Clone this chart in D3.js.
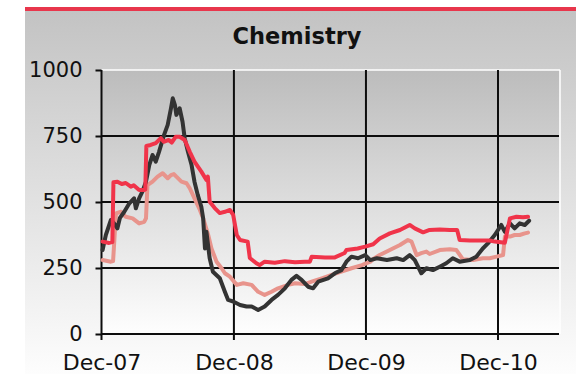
<!DOCTYPE html>
<html>
<head>
<meta charset="utf-8">
<script src="https://cdn.jsdelivr.net/npm/d3@7"></script>
<style>
  html, body { margin: 0; padding: 0; background: #ffffff; }
  svg { display: block; }
  text { font-family: "DejaVu Sans", Verdana, sans-serif; fill: #111; }
</style>
</head>
<body>
<svg id="chart" width="576" height="374"></svg>
<script>
// Chemistry index series (date, level)
const seriesNames = ["Sector", "Benchmark A", "Benchmark B"];

const sectorDates = ["2007-12-04","2007-12-13","2007-12-27","2008-01-04","2008-01-14","2008-01-21","2008-02-02","2008-02-16","2008-02-29","2008-03-05","2008-03-14","2008-03-23","2008-04-02","2008-04-11","2008-04-20","2008-04-29","2008-05-08","2008-05-22","2008-06-01","2008-06-10","2008-06-15","2008-06-21","2008-06-25","2008-07-04","2008-07-12","2008-07-18","2008-07-27","2008-08-06","2008-08-14","2008-08-23","2008-09-02","2008-09-07","2008-09-12","2008-09-16","2008-09-25","2008-10-04","2008-10-23","2008-11-06","2008-11-15","2008-11-29","2008-12-18","2009-01-05","2009-01-19","2009-02-06","2009-02-24","2009-03-15","2009-04-02","2009-04-21","2009-05-09","2009-05-23","2009-06-06","2009-06-24","2009-07-08","2009-07-22","2009-08-18","2009-09-06","2009-09-24","2009-10-08","2009-10-22","2009-11-09","2009-11-29","2009-12-13","2009-12-31","2010-01-28","2010-02-24","2010-03-14","2010-04-01","2010-04-15","2010-04-24","2010-05-03","2010-05-17","2010-06-04","2010-06-23","2010-07-11","2010-07-29","2010-08-17","2010-09-14","2010-10-02","2010-10-20","2010-11-03","2010-11-22","2010-12-10","2010-12-20","2011-01-03","2011-01-16","2011-01-30","2011-02-13","2011-02-25"];
const sectorValues = [318,375,432,420,400,440,463,495,514,476,514,539,577,640,678,653,690,754,792,855,893,867,830,855,804,741,690,640,577,527,482,438,324,387,287,236,211,160,129,123,110,104,104,91,104,129,148,173,205,220,205,179,173,198,211,230,242,274,293,287,299,280,287,280,287,280,299,280,255,230,249,242,255,268,287,274,280,293,324,343,375,413,387,419,400,419,413,429];

const benchADates = ["2007-12-04","2007-12-22","2007-12-31","2008-01-03","2008-01-14","2008-01-26","2008-02-06","2008-02-20","2008-02-28","2008-03-14","2008-03-28","2008-03-31","2008-04-03","2008-04-15","2008-04-29","2008-05-13","2008-05-21","2008-06-04","2008-06-12","2008-06-23","2008-07-04","2008-07-18","2008-08-01","2008-08-14","2008-09-02","2008-09-16","2008-09-20","2008-09-25","2008-10-09","2008-10-23","2008-11-06","2008-11-20","2008-11-29","2008-12-09","2008-12-18","2009-01-08","2009-01-14","2009-02-01","2009-02-10","2009-02-24","2009-03-24","2009-04-21","2009-05-19","2009-06-15","2009-06-29","2009-07-04","2009-08-10","2009-09-06","2009-10-03","2009-10-08","2009-11-08","2009-11-29","2009-12-21","2010-01-08","2010-02-05","2010-03-05","2010-04-01","2010-04-15","2010-05-08","2010-05-26","2010-06-23","2010-07-21","2010-08-10","2010-08-17","2010-09-14","2010-11-08","2010-11-22","2010-12-20","2011-01-03","2011-01-21","2011-02-08","2011-02-22"];
const benchAValues = [350,345,348,575,577,568,572,558,563,545,545,548,712,716,723,742,728,735,725,747,747,735,690,653,615,583,596,501,477,458,463,470,451,375,356,350,288,268,261,274,270,276,272,274,274,293,290,290,307,318,324,331,340,362,381,394,413,400,385,394,396,394,394,356,354,354,350,346,438,444,442,444];

const benchBDates = ["2007-12-04","2007-12-27","2008-01-02","2008-01-10","2008-01-24","2008-02-06","2008-02-25","2008-03-14","2008-03-28","2008-04-02","2008-04-06","2008-04-20","2008-05-04","2008-05-18","2008-06-01","2008-06-10","2008-06-18","2008-06-25","2008-07-09","2008-07-23","2008-08-01","2008-08-14","2008-08-29","2008-09-07","2008-09-21","2008-09-30","2008-10-14","2008-10-28","2008-11-06","2008-11-20","2008-12-09","2008-12-27","2009-01-19","2009-02-06","2009-02-24","2009-03-15","2009-04-02","2009-04-30","2009-05-19","2009-06-15","2009-07-04","2009-08-01","2009-08-28","2009-09-24","2009-10-22","2009-11-20","2009-12-13","2009-12-21","2010-01-08","2010-02-05","2010-03-05","2010-03-27","2010-04-06","2010-04-20","2010-05-03","2010-05-17","2010-05-26","2010-06-23","2010-07-21","2010-08-08","2010-08-26","2010-09-23","2010-10-20","2010-11-08","2010-11-27","2010-12-15","2010-12-20","2011-01-03","2011-01-16","2011-01-30","2011-02-13","2011-02-22"];
const benchBValues = [280,274,276,457,463,444,438,419,425,438,564,577,596,609,590,602,606,596,577,571,552,514,470,438,375,324,274,249,230,217,186,192,186,160,148,160,173,186,192,189,198,211,224,236,249,261,274,284,299,318,337,356,350,299,306,312,303,318,321,318,283,280,287,287,293,299,369,369,375,375,381,384];

const yTicks = [0, 250, 500, 750, 1000];
const xTickDates = ["2007-12-01", "2008-12-01", "2009-12-01", "2010-12-01"];
const titleText = "Chemistry";

const parse = d3.timeParse("%Y-%m-%d");
const zip = (ds, vs) => ds.map((d, i) => ({ date: parse(d), value: vs[i] }));
const sector = zip(sectorDates, sectorValues);
const benchA = zip(benchADates, benchAValues);
const benchB = zip(benchBDates, benchBValues);

const W = 576, H = 374;
const plot = { left: 101.5, right: 559, top: 70, bottom: 334 };

const svg = d3.select("#chart");
const defs = svg.append("defs");

const panelGrad = defs.append("linearGradient").attr("id", "panelGrad")
  .attr("x1", 0).attr("y1", 0).attr("x2", 0).attr("y2", 1);
panelGrad.append("stop").attr("offset", "0%").attr("stop-color", "#c3c3c3");
panelGrad.append("stop").attr("offset", "100%").attr("stop-color", "#fdfdfd");

const plotGrad = defs.append("linearGradient").attr("id", "plotGrad")
  .attr("x1", 0).attr("y1", 0).attr("x2", 0).attr("y2", 1);
plotGrad.append("stop").attr("offset", "0%").attr("stop-color", "#bcbcbc");
plotGrad.append("stop").attr("offset", "100%").attr("stop-color", "#fefefe");

// Panel background and accent bar
svg.append("rect").attr("x", 25).attr("y", 11).attr("width", W - 25).attr("height", H - 11)
  .attr("fill", "url(#panelGrad)");
svg.append("rect").attr("x", 25).attr("y", 7).attr("width", W - 25).attr("height", 4)
  .attr("fill", "#e8364c");

// Title
svg.append("text").attr("x", 297).attr("y", 44).attr("text-anchor", "middle")
  .attr("font-size", 22.5).attr("font-weight", "bold").text(titleText);

// Scales
const x = d3.scaleTime()
  .domain([parse("2007-12-01"), parse("2010-12-01")])
  .range([plot.left, 498]);
const y = d3.scaleLinear().domain([0, 1000]).range([plot.bottom, plot.top]);

// Plot area
svg.append("rect").attr("x", plot.left).attr("y", plot.top)
  .attr("width", plot.right - plot.left).attr("height", plot.bottom - plot.top)
  .attr("fill", "url(#plotGrad)");

// White frame on top and right
svg.append("line").attr("x1", plot.left).attr("x2", plot.right + 1)
  .attr("y1", plot.top).attr("y2", plot.top).attr("stroke", "#ffffff").attr("stroke-width", 1.5);
svg.append("line").attr("x1", plot.right + 1).attr("x2", plot.right + 1)
  .attr("y1", plot.top).attr("y2", plot.bottom).attr("stroke", "#ffffff").attr("stroke-width", 1.5);

// Horizontal gridlines
svg.append("g").selectAll("line")
  .data(yTicks.filter(t => t < 1000))
  .join("line")
  .attr("x1", plot.left).attr("x2", plot.right)
  .attr("y1", d => y(d)).attr("y2", d => y(d))
  .attr("stroke", "#0d0d0d").attr("stroke-width", 2);

// Vertical gridlines (extend below as tick marks)
svg.append("g").selectAll("line")
  .data(xTickDates.map(parse))
  .join("line")
  .attr("x1", d => x(d)).attr("x2", d => x(d))
  .attr("y1", plot.top).attr("y2", plot.bottom + 6)
  .attr("stroke", "#0d0d0d").attr("stroke-width", 2);

// Y axis
const yAxis = d3.axisLeft(y).tickValues(yTicks).tickFormat(d3.format("d"))
  .tickSize(6).tickPadding(13);
const gy = svg.append("g").attr("transform", `translate(${plot.left},0)`).call(yAxis);
gy.select(".domain").remove();
gy.selectAll(".tick line").attr("stroke", "#0d0d0d").attr("stroke-width", 2);
gy.selectAll(".tick text").attr("font-size", 21).attr("fill", "#111")
  .attr("font-family", "DejaVu Sans, Verdana, sans-serif");

// X axis labels
const xAxis = d3.axisBottom(x).tickValues(xTickDates.map(parse))
  .tickFormat(d3.timeFormat("%b-%y")).tickSize(0).tickPadding(20);
const gx = svg.append("g").attr("transform", `translate(0,${plot.bottom})`).call(xAxis);
gx.select(".domain").remove();
gx.selectAll(".tick text").attr("font-size", 22).attr("fill", "#111")
  .attr("font-family", "DejaVu Sans, Verdana, sans-serif");

// Series lines
const line = d3.line().x(d => x(d.date)).y(d => y(d.value));
const series = [
  { data: benchB, color: "#e8948c" },
  { data: sector, color: "#333333" },
  { data: benchA, color: "#f0344a" }
];
svg.append("g").selectAll("path")
  .data(series)
  .join("path")
  .attr("d", d => line(d.data))
  .attr("fill", "none")
  .attr("stroke", d => d.color)
  .attr("stroke-width", 4)
  .attr("stroke-linejoin", "round")
  .attr("stroke-linecap", "round");
</script>
</body>
</html>
